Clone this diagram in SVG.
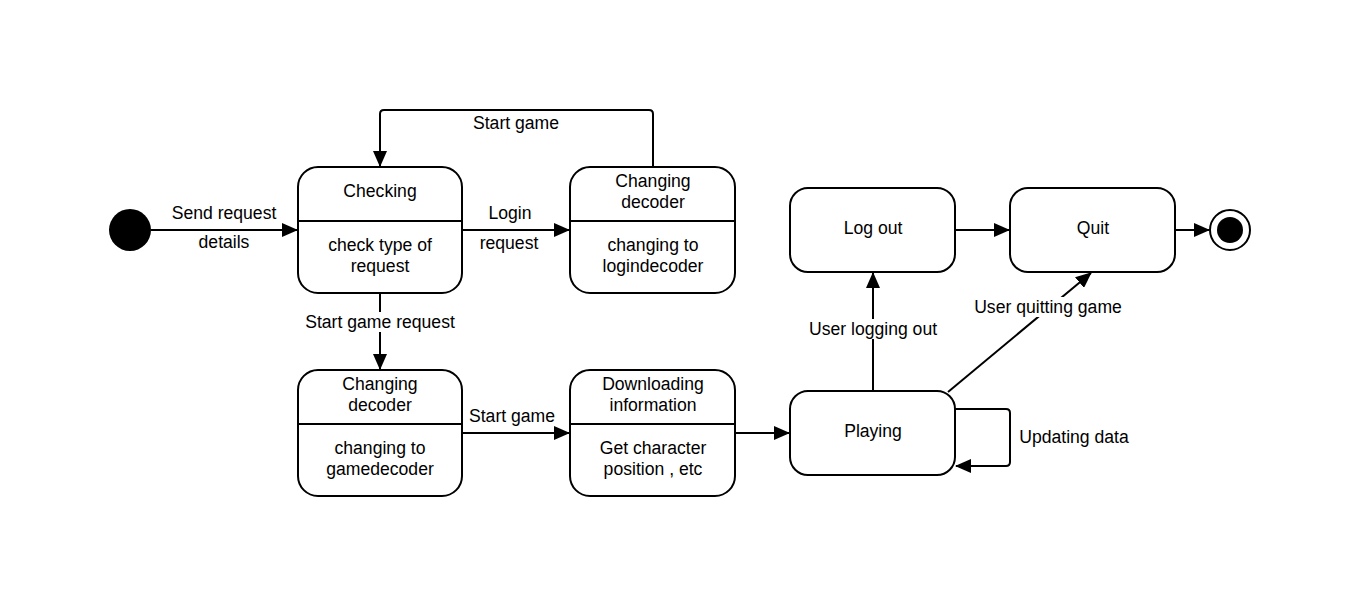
<svg xmlns="http://www.w3.org/2000/svg" width="1360" height="605" viewBox="0 0 1360 605">
<defs>
<marker id="arr" markerWidth="16" markerHeight="14" refX="15" refY="7" orient="auto" markerUnits="userSpaceOnUse">
<path d="M0,0 L16,7 L0,14 Z" fill="#000"/>
</marker>
<style>
.box{fill:#fff;stroke:#000;stroke-width:2}
.ln{fill:none;stroke:#000;stroke-width:2}
.t{font-family:"Liberation Sans",Arial,sans-serif;font-size:17.6px;fill:#000;text-anchor:middle;dominant-baseline:central}
.bg{fill:#fff}
</style>
</defs>
<rect width="1360" height="605" fill="#fff"/>
<g id="connectors">
<path class="ln" d="M151,230 H297" marker-end="url(#arr)"/>
<path class="ln" d="M462,230 H569" marker-end="url(#arr)"/>
<path class="ln" d="M653,167 V114 Q653,110 649,110 H384 Q380,110 380,114 V166" marker-end="url(#arr)"/>
<path class="ln" d="M380,293 V369" marker-end="url(#arr)"/>
<rect class="bg" x="300" y="312" width="160" height="20"/>
<path class="ln" d="M462,433 H569" marker-end="url(#arr)"/>
<path class="ln" d="M735,433 H789" marker-end="url(#arr)"/>
<path class="ln" d="M873,391 V273" marker-end="url(#arr)"/>
<rect class="bg" x="804" y="319" width="138" height="20"/>
<path class="ln" d="M948,392 L1091,273" marker-end="url(#arr)"/>
<rect class="bg" x="970" y="297" width="156" height="20"/>
<path class="ln" d="M955,409 H1006 Q1010,409 1010,413 V462 Q1010,466 1006,466 H956" marker-end="url(#arr)"/>
<path class="ln" d="M955,230 H1009" marker-end="url(#arr)"/>
<path class="ln" d="M1175,230 H1209" marker-end="url(#arr)"/>
<text class="t" x="224" y="213">Send request</text>
<text class="t" x="224" y="242">details</text>
<text class="t" x="510" y="213">Login</text>
<text class="t" x="509" y="243">request</text>
<text class="t" x="516" y="123">Start game</text>
<text class="t" x="380" y="322">Start game request</text>
<text class="t" x="512" y="416">Start game</text>
<text class="t" x="873" y="329">User logging out</text>
<text class="t" x="1048" y="307">User quitting game</text>
<text class="t" x="1074" y="437">Updating data</text>
</g>
<g id="start">
<circle cx="130" cy="230" r="21" fill="#000"/>
</g>
<g id="checking">
<rect class="box" x="298" y="167" width="164" height="126" rx="20"/>
<line class="ln" x1="298" y1="221" x2="462" y2="221"/>
<text class="t" x="380" y="191">Checking</text>
<text class="t" x="380" y="245">check type of</text>
<text class="t" x="380" y="266">request</text>
</g>
<g id="changing-login">
<rect class="box" x="570" y="167" width="165" height="126" rx="20"/>
<line class="ln" x1="570" y1="221" x2="735" y2="221"/>
<text class="t" x="653" y="181">Changing</text>
<text class="t" x="653" y="202">decoder</text>
<text class="t" x="653" y="245">changing to</text>
<text class="t" x="653" y="266">logindecoder</text>
</g>
<g id="changing-game">
<rect class="box" x="298" y="370" width="164" height="126" rx="20"/>
<line class="ln" x1="298" y1="424" x2="462" y2="424"/>
<text class="t" x="380" y="384">Changing</text>
<text class="t" x="380" y="405">decoder</text>
<text class="t" x="380" y="448">changing to</text>
<text class="t" x="380" y="469">gamedecoder</text>
</g>
<g id="downloading">
<rect class="box" x="570" y="370" width="165" height="126" rx="20"/>
<line class="ln" x1="570" y1="424" x2="735" y2="424"/>
<text class="t" x="653" y="384">Downloading</text>
<text class="t" x="653" y="405">information</text>
<text class="t" x="653" y="448">Get character</text>
<text class="t" x="653" y="469">position , etc</text>
</g>
<g id="playing">
<rect class="box" x="790" y="391" width="165" height="84" rx="18"/>
<text class="t" x="873" y="431">Playing</text>
</g>
<g id="logout">
<rect class="box" x="790" y="188" width="165" height="84" rx="18"/>
<text class="t" x="873" y="228">Log out</text>
</g>
<g id="quit">
<rect class="box" x="1010" y="188" width="165" height="84" rx="18"/>
<text class="t" x="1093" y="228">Quit</text>
</g>
<g id="end">
<circle cx="1230" cy="230" r="20" fill="#fff" stroke="#000" stroke-width="2"/>
<circle cx="1230" cy="230" r="13" fill="#000"/>
</g>
</svg>
